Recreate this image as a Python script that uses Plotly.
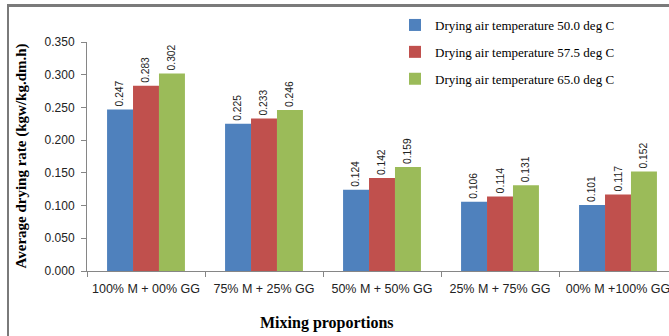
import plotly.graph_objects as go

categories = ["100% M + 00% GG", "75% M + 25% GG", "50% M + 50% GG", "25% M + 75% GG", "00% M +100% GG"]
series_names = ["Drying air temperature 50.0 deg C",
                "Drying air temperature 57.5 deg C",
                "Drying air temperature 65.0 deg C"]
temp_50 = [0.247, 0.225, 0.124, 0.106, 0.101]
temp_575 = [0.283, 0.233, 0.142, 0.114, 0.117]
temp_65 = [0.302, 0.246, 0.159, 0.131, 0.152]
colors = ["#4F81BD", "#C0504D", "#9BBB59"]
y_ticks = [0.0, 0.05, 0.10, 0.15, 0.20, 0.25, 0.30, 0.35]

fig = go.Figure()
for i, (name, vals) in enumerate(zip(series_names, [temp_50, temp_575, temp_65])):
    fig.add_trace(go.Bar(
        x=categories, y=vals, name=name, legendgroup=f"g{i}",
        marker=dict(color=colors[i], line=dict(width=0)),
        text=[f"{v:.3f}" for v in vals], textposition="outside", textangle=-90,
        textfont=dict(family="Liberation Sans", size=12, color="#222"),
        cliponaxis=False,
    ))

W, H = 669, 336
L, R, T, B = 87, 0, 42, 65
pw = W - L - R
ph = H - T - B

def px(x):
    return (x - L) / pw

def py(y):
    return (H - B - y) / ph

fig.update_layout(
    width=W, height=H,
    margin=dict(l=L, r=R, t=T, b=B),
    paper_bgcolor="white", plot_bgcolor="white",
    barmode="group", bargap=0.34, bargroupgap=0,
    font=dict(family="Liberation Sans", size=12, color="#222"),
    showlegend=True,
    legend=dict(x=px(395), y=py(10), xanchor="left", yanchor="top",
                font=dict(family="Liberation Serif", size=13, color="black"),
                bgcolor="rgba(255,255,255,0)", traceorder="grouped", tracegroupgap=7,
                itemclick=False),
    xaxis=dict(range=[-0.5, -0.5 + pw / 118.0], showline=True, linecolor="#868686", linewidth=1,
               ticks="outside", tickson="boundaries", ticklen=5, tickcolor="#868686",
               ticklabelstandoff=6,
               tickfont=dict(family="Liberation Sans", size=12.5, color="#222"),
               showgrid=False, zeroline=False),
    yaxis=dict(range=[0, 0.35], tickvals=y_ticks, tickformat=".3f", showline=True,
               linecolor="#868686", linewidth=1, ticks="outside", ticklen=5, tickcolor="#868686",
               ticklabelstandoff=4,
               tickfont=dict(family="Liberation Sans", size=12, color="#222"),
               showgrid=False, zeroline=False),
    annotations=[
        dict(text="<b>Average drying rate (kgw/kg.dm.h)</b>", xref="paper", yref="paper",
             x=px(21), y=0.5, textangle=-90, showarrow=False, xanchor="center", yanchor="middle",
             font=dict(family="Liberation Serif", size=15, color="black")),
        dict(text="<b>Mixing proportions</b>", xref="paper", yref="paper",
             x=px(327), y=py(323), showarrow=False, xanchor="center", yanchor="middle",
             font=dict(family="Liberation Serif", size=16, color="black")),
    ],
    shapes=[
        dict(type="rect", xref="paper", yref="paper", x0=px(7), x1=px(669), y0=py(7), y1=py(4),
             line=dict(width=0), fillcolor="#7a7a7a", layer="above"),
        dict(type="rect", xref="paper", yref="paper", x0=px(7), x1=px(9), y0=py(336), y1=py(4),
             line=dict(width=0), fillcolor="#7a7a7a", layer="above"),
    ],
)

fig.write_html("out.html", config={"displayModeBar": False},
               post_script="document.body.style.margin='0';document.body.style.overflow='hidden';")
